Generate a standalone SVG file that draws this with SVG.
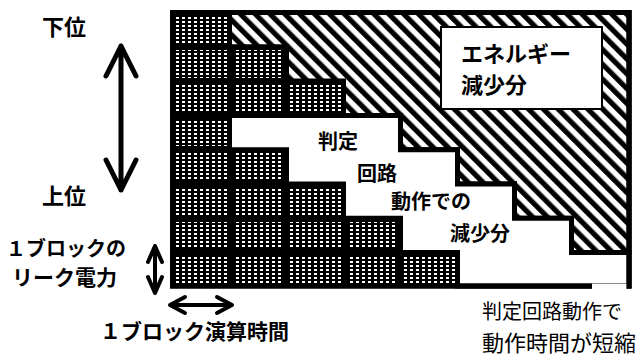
<svg xmlns="http://www.w3.org/2000/svg" width="644" height="356" viewBox="0 0 644 356">
<style>
.lb{font-family:"Noto Sans CJK JP","Noto Sans CJK SC",sans-serif;font-weight:700;fill:#000}
.rg{font-family:"Noto Sans CJK JP","Noto Sans CJK SC",sans-serif;font-weight:400;fill:#000}
.blk{fill:url(#dots)}
.arr{stroke:#000;stroke-width:5;stroke-linecap:round;stroke-linejoin:round;fill:none}
.arrs{stroke:#000;stroke-width:4;stroke-linecap:round;stroke-linejoin:round;fill:none}
</style>
<defs>
<pattern id="dots" patternUnits="userSpaceOnUse" x="0" y="0" width="6" height="4">
<rect width="6" height="4" fill="#000"/>
<rect x="2" y="1" width="3" height="2" fill="#fff"/>
</pattern>
<pattern id="hatch" patternUnits="userSpaceOnUse" width="10.5" height="10.5" patternTransform="rotate(-45)">
<rect width="10.5" height="10.5" fill="#fff"/>
<rect width="5.2" height="10.5" fill="#000"/>
</pattern>
</defs>
<g id="frame">
<rect x="172.5" y="12.5" width="456.5" height="273.5" fill="#000" stroke="#000" stroke-width="5"/>
</g>
<g id="blocks">
<rect class="blk" x="176" y="16" width="51" height="28"/>
<rect class="blk" x="176" y="50" width="51" height="28"/>
<rect class="blk" x="233" y="50" width="51" height="28"/>
<rect class="blk" x="176" y="85" width="51" height="27"/>
<rect class="blk" x="233" y="85" width="51" height="27"/>
<rect class="blk" x="290" y="85" width="51" height="27"/>
<rect class="blk" x="176" y="119" width="51" height="27"/>
<rect class="blk" x="176" y="153" width="51" height="28"/>
<rect class="blk" x="233" y="153" width="51" height="28"/>
<rect class="blk" x="176" y="188" width="51" height="27"/>
<rect class="blk" x="233" y="188" width="51" height="27"/>
<rect class="blk" x="290" y="188" width="51" height="27"/>
<rect class="blk" x="176" y="222" width="51" height="27"/>
<rect class="blk" x="233" y="222" width="51" height="27"/>
<rect class="blk" x="290" y="222" width="51" height="27"/>
<rect class="blk" x="347" y="222" width="51" height="27"/>
<rect class="blk" x="176" y="256" width="51" height="27"/>
<rect class="blk" x="233" y="256" width="51" height="27"/>
<rect class="blk" x="290" y="256" width="51" height="27"/>
<rect class="blk" x="347" y="256" width="51" height="27"/>
<rect class="blk" x="404" y="256" width="51" height="27"/>
</g>
<g id="energy-loss">
<polygon points="229.5,12.5 629,12.5 629,252.6 571.5,252.6 571.5,218.3 514.5,218.3 514.5,184 457.5,184 457.5,149.7 400.5,149.7 400.5,115.4 343.5,115.4 343.5,81.1 286.5,81.1 286.5,46.8 229.5,46.8" fill="url(#hatch)" stroke="#000" stroke-width="5"/>
</g>
<g id="judge-loss">
<polygon points="229.5,115.4 400.5,115.4 400.5,149.7 457.5,149.7 457.5,184 514.5,184 514.5,218.3 571.5,218.3 571.5,252.6 629,252.6 629,286 457.5,286 457.5,252.6 400.5,252.6 400.5,218.3 343.5,218.3 343.5,184 286.5,184 286.5,149.7 229.5,149.7" fill="#fff" stroke="#000" stroke-width="5"/>
<text class="lb" x="318" y="149" font-size="20">判定</text>
<text class="lb" x="357" y="181" font-size="20">回路</text>
<text class="lb" x="391" y="209" font-size="20">動作での</text>
<text class="lb" x="450" y="241" font-size="20">減少分</text>
</g>
<g id="frame-border">
<rect x="172.5" y="12.5" width="456.5" height="273.5" fill="none" stroke="#000" stroke-width="5"/>
<rect x="592" y="283.6" width="34.4" height="6" fill="#fff"/>
</g>
<g id="energy-label">
<rect x="441" y="27" width="161" height="82" fill="#fff" stroke="#000" stroke-width="2"/>
<text class="lb" x="461" y="62" font-size="22">エネルギー</text>
<text class="lb" x="461" y="93" font-size="22">減少分</text>
</g>
<g id="labels">
<text class="lb" x="42" y="35" font-size="22">下位</text>
<text class="lb" x="42" y="204" font-size="22">上位</text>
<text class="lb" x="6" y="256" font-size="20">１ブロックの</text>
<text class="lb" x="12" y="285" font-size="21">リーク電力</text>
<text class="lb" x="100" y="339" font-size="21">１ブロック演算時間</text>
<text class="rg" x="482" y="319" font-size="20">判定回路動作で</text>
<text class="rg" x="482" y="351" font-size="22">動作時間が短縮</text>
</g>
<g id="connectors">
<path class="arr" d="M121,46 V190 M106,76 L121,46 L136,76 M106,160 L121,190 L136,160"/>
<path class="arrs" d="M155,246 V293 M148,262 L155,246 L162,262 M148,277 L155,293 L162,277"/>
<path class="arrs" d="M170,305 H232 M185,297 L170,305 L185,313 M217,297 L232,305 L217,313"/>
</g>
</svg>
